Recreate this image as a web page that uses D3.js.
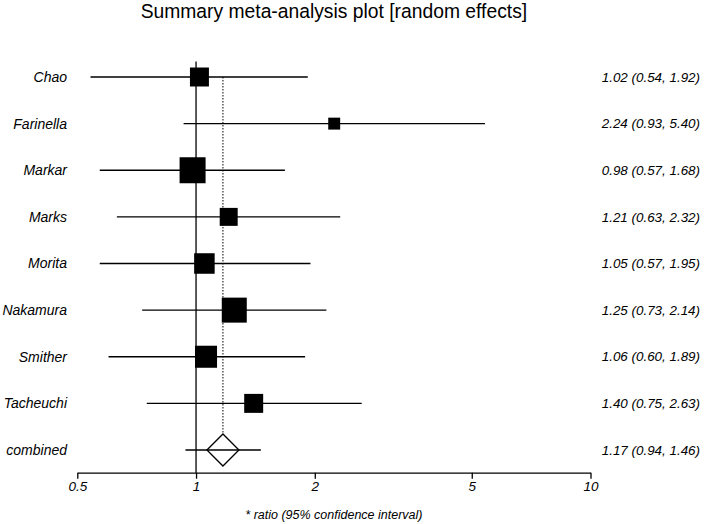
<!DOCTYPE html>
<html>
<head>
<meta charset="utf-8">
<script src="https://cdn.jsdelivr.net/npm/d3@7"></script>
<style>
  html, body { margin: 0; padding: 0; background: #fff; }
  svg { display: block; }
  text { font-family: "Liberation Sans", Arial, sans-serif; fill: #000; }
</style>
</head>
<body>
<svg id="chart" width="704" height="524"></svg>
<script>
const studies   = ["Chao", "Farinella", "Markar", "Marks", "Morita", "Nakamura", "Smither", "Tacheuchi"];
const estimates = [1.02, 2.24, 0.98, 1.21, 1.05, 1.25, 1.06, 1.40];
const lowerCI   = [0.54, 0.93, 0.57, 0.63, 0.57, 0.73, 0.60, 0.75];
const upperCI   = [1.92, 5.40, 1.68, 2.32, 1.95, 2.14, 1.89, 2.63];
const weights   = [10.6, 4.2, 19.9, 9.5, 12.4, 18.4, 14.3, 10.6];
const pooledLabel = "combined";
const pooledEst = 1.17, pooledLo = 0.94, pooledHi = 1.46;
const tickValues = [0.5, 1, 2, 5, 10];
const titleText = "Summary meta-analysis plot [random effects]";
const axisTitle = "* ratio (95% confidence interval)";

const svg = d3.select("#chart");
const fmt = d3.format(".2f");

const x = d3.scaleLog().domain([0.5, 10]).range([77.3, 590.5]);
const rows = studies.concat([pooledLabel]);
const y = d3.scalePoint().domain(rows).range([77, 450]);
const side = d3.scaleSqrt().domain([0, d3.max(weights)]).range([0, 26]);
const axisY = 472.7;
const lw = 1.3;

// title
svg.append("text")
  .attr("x", (x.range()[0] + x.range()[1]) / 2)
  .attr("y", 17.5)
  .attr("text-anchor", "middle")
  .style("font-size", "19.3px")
  .text(titleText);

// reference line at 1
svg.append("line")
  .attr("x1", x(1)).attr("x2", x(1))
  .attr("y1", 61.5).attr("y2", axisY)
  .attr("stroke", "#000").attr("stroke-width", lw);

// dotted line at pooled estimate
svg.append("line")
  .attr("x1", x(pooledEst)).attr("x2", x(pooledEst))
  .attr("y1", y(studies[0])).attr("y2", y(pooledLabel) - 16)
  .attr("stroke", "#000").attr("stroke-width", 1)
  .attr("stroke-dasharray", "1.5,1.5");

const data = studies.map((s, i) => ({ s, est: estimates[i], lo: lowerCI[i], hi: upperCI[i], w: weights[i] }));

const g = svg.append("g");
g.selectAll("line.ci").data(data).join("line")
  .attr("class", "ci")
  .attr("x1", d => x(d.lo)).attr("x2", d => x(d.hi))
  .attr("y1", d => y(d.s)).attr("y2", d => y(d.s))
  .attr("stroke", "#000").attr("stroke-width", lw);

g.selectAll("rect.box").data(data).join("rect")
  .attr("class", "box")
  .attr("x", d => x(d.est) - side(d.w) / 2)
  .attr("y", d => y(d.s) - side(d.w) / 2)
  .attr("width", d => side(d.w))
  .attr("height", d => side(d.w))
  .attr("fill", "#000");

// pooled
const py = y(pooledLabel);
svg.append("line")
  .attr("x1", x(pooledLo)).attr("x2", x(pooledHi))
  .attr("y1", py).attr("y2", py)
  .attr("stroke", "#000").attr("stroke-width", lw);
const px = x(pooledEst), dh = 16;
svg.append("path")
  .attr("d", `M${px - dh},${py} L${px},${py - dh} L${px + dh},${py} L${px},${py + dh} Z`)
  .attr("fill", "#fff").attr("stroke", "#000").attr("stroke-width", lw);
svg.append("line")
  .attr("x1", px - dh).attr("x2", px + dh)
  .attr("y1", py).attr("y2", py)
  .attr("stroke", "#000").attr("stroke-width", lw);

// left labels
svg.selectAll("text.lab").data(rows).join("text")
  .attr("class", "lab")
  .attr("x", 67)
  .attr("y", d => y(d))
  .attr("dy", "0.35em")
  .attr("text-anchor", "end")
  .style("font-size", "14px")
  .style("font-style", "italic")
  .text(d => d);

// right labels
const rightTxt = data.map(d => `${fmt(d.est)} (${fmt(d.lo)}, ${fmt(d.hi)})`)
  .concat([`${fmt(pooledEst)} (${fmt(pooledLo)}, ${fmt(pooledHi)})`]);
svg.selectAll("text.rlab").data(rows).join("text")
  .attr("class", "rlab")
  .attr("x", 700)
  .attr("y", d => y(d))
  .attr("dy", "0.35em")
  .attr("text-anchor", "end")
  .style("font-size", "13.4px")
  .style("font-style", "italic")
  .text((d, i) => rightTxt[i]);

// x axis
const axis = d3.axisBottom(x)
  .tickValues(tickValues)
  .tickFormat(d => String(d))
  .tickSize(6)
  .tickSizeOuter(0)
  .tickPadding(3);
const ag = svg.append("g").attr("transform", `translate(0,${axisY})`).call(axis);
ag.select(".domain").attr("stroke", "#000").attr("stroke-width", lw);
ag.selectAll(".tick line").attr("stroke", "#000").attr("stroke-width", lw);
ag.selectAll(".tick text")
  .style("font-family", "'Liberation Sans', Arial, sans-serif")
  .style("font-size", "13.5px")
  .style("font-style", "italic")
  .attr("fill", "#000");

svg.append("text")
  .attr("x", (x.range()[0] + x.range()[1]) / 2)
  .attr("y", 519)
  .attr("text-anchor", "middle")
  .style("font-size", "12.5px")
  .style("font-style", "italic")
  .text(axisTitle);
</script>
</body>
</html>
